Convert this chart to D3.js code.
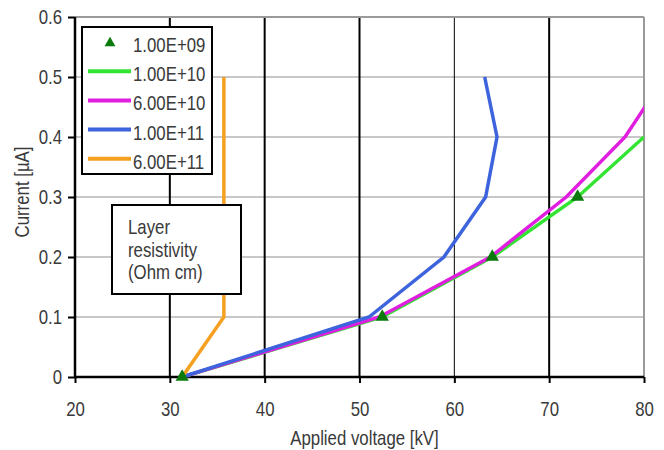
<!DOCTYPE html>
<html>
<head>
<meta charset="utf-8">
<script src="https://cdn.jsdelivr.net/npm/d3@7"></script>
<style>
  html, body { margin: 0; padding: 0; background: #fff; }
  svg { display: block; font-family: "Liberation Sans", Arial, sans-serif; }
</style>
</head>
<body>
<svg id="chart" width="664" height="450"></svg>
<script>
// ---- data ----
const xTicks = [20, 30, 40, 50, 60, 70, 80];
const yTicks = [0, 0.1, 0.2, 0.3, 0.4, 0.5, 0.6];
const yTickLabels = ["0", "0.1", "0.2", "0.3", "0.4", "0.5", "0.6"];

const seriesNames = ["1.00E+09", "1.00E+10", "6.00E+10", "1.00E+11", "6.00E+11"];

const volt_1e09 = [31.3, 52.4, 64.0, 73.0];
const curr_1e09 = [0, 0.1, 0.2, 0.3];

const volt_1e10 = [31.3, 52.4, 64.0, 73.0, 80.0];
const curr_1e10 = [0, 0.1, 0.2, 0.3, 0.4];

const volt_6e10 = [31.3, 52.1, 63.8, 71.8, 78.0, 82.2];
const curr_6e10 = [0, 0.1, 0.2, 0.3, 0.4, 0.5];

const volt_1e11 = [31.3, 51.0, 58.9, 63.3, 64.5, 63.2];
const curr_1e11 = [0, 0.1, 0.2, 0.3, 0.4, 0.5];

const volt_6e11 = [31.3, 35.7, 35.7, 35.7, 35.7, 35.7];
const curr_6e11 = [0, 0.1, 0.2, 0.3, 0.4, 0.5];

const boxLines = ["Layer", "resistivity", "(Ohm cm)"];

// ---- drawing ----
const svg = d3.select("#chart");
const x = d3.scaleLinear().domain([20, 80]).range([75, 644]);
const y = d3.scaleLinear().domain([0, 0.6]).range([377, 17]);
const textColor = "#3a3a3a";
const FS = 21;

const zip = (vs, cs) => vs.map((v, i) => ({ v, c: cs[i] }));

// clip
svg.append("defs").append("clipPath").attr("id", "plotclip")
  .append("rect").attr("x", x(20)).attr("y", y(0.6) - 1)
  .attr("width", x(80) - x(20)).attr("height", y(0) - y(0.6) + 2);

// horizontal gridlines (gray)
svg.append("g").selectAll("line").data(yTicks.filter(d => d > 0))
  .join("line")
  .attr("x1", x(20)).attr("x2", x(80))
  .attr("y1", d => y(d)).attr("y2", d => y(d))
  .attr("stroke", "#b4b4b4").attr("stroke-width", 1.5);

// vertical gridlines (black, right border gray)
svg.append("g").selectAll("line").data(xTicks.filter(d => d > 20))
  .join("line")
  .attr("x1", d => x(d)).attr("x2", d => x(d))
  .attr("y1", y(0.6)).attr("y2", y(0))
  .attr("stroke", d => d === 80 ? "#9a9a9a" : "#000")
  .attr("stroke-width", d => d === 60 ? 1 : 2);

// top border
svg.append("line")
  .attr("x1", x(20)).attr("x2", x(80))
  .attr("y1", y(0.6)).attr("y2", y(0.6))
  .attr("stroke", "#9a9a9a").attr("stroke-width", 2);

// axes
const xAxis = d3.axisBottom(x).tickValues(xTicks).tickSize(6).tickPadding(18)
  .tickFormat(d => String(d));
const gx = svg.append("g").attr("transform", `translate(0,${y(0)})`).call(xAxis);
gx.select(".domain").attr("stroke", "#000").attr("stroke-width", 2.5)
  .attr("d", `M${x(20)},0H${x(80)}`);
gx.selectAll(".tick line").attr("stroke", "#000").attr("stroke-width", 2);
gx.selectAll(".tick text").attr("fill", textColor).attr("font-size", FS)
  .attr("font-family", "Liberation Sans, Arial, sans-serif");

const yAxis = d3.axisLeft(y).tickValues(yTicks).tickSize(7).tickPadding(6)
  .tickFormat((d, i) => yTickLabels[i]);
const gy = svg.append("g").attr("transform", `translate(${x(20)},0)`).call(yAxis);
gy.select(".domain").attr("stroke", "#000").attr("stroke-width", 2.5)
  .attr("d", `M0,${y(0.6)}V${y(0)}`);
gy.selectAll(".tick line").attr("stroke", "#000").attr("stroke-width", 2);
gy.selectAll(".tick text").attr("fill", textColor).attr("font-size", FS)
  .attr("font-family", "Liberation Sans, Arial, sans-serif");

// axis titles
svg.append("text")
  .attr("x", (x(20) + x(80)) / 2 + 5).attr("y", 445)
  .attr("text-anchor", "middle").attr("fill", textColor).attr("font-size", FS)
  .text("Applied voltage [kV]");
svg.append("text")
  .attr("transform", `translate(29,${(y(0) + y(0.6)) / 2 - 5}) rotate(-90)`)
  .attr("text-anchor", "middle").attr("fill", textColor).attr("font-size", FS)
  .text("Current [\u00b5A]");

// series lines
const line = d3.line().x(d => x(d.v)).y(d => y(d.c));
const plot = svg.append("g").attr("clip-path", "url(#plotclip)");
const lineSeries = [
  { name: seriesNames[1], data: zip(volt_1e10, curr_1e10), color: "#33e433" },
  { name: seriesNames[2], data: zip(volt_6e10, curr_6e10), color: "#e01ee0" },
  { name: seriesNames[3], data: zip(volt_1e11, curr_1e11), color: "#3d63dd" },
  { name: seriesNames[4], data: zip(volt_6e11, curr_6e11), color: "#f5a020" }
];
plot.selectAll("path.series").data(lineSeries).join("path")
  .attr("class", "series")
  .attr("d", d => line(d.data))
  .attr("fill", "none").attr("stroke", d => d.color)
  .attr("stroke-width", 3.5).attr("stroke-linejoin", "miter");

// triangles
const tri = d3.symbol().type(d3.symbolTriangle).size(76);
const triSmall = d3.symbol().type(d3.symbolTriangle).size(52);
const triColor = "#0b7a0b";
svg.append("g").selectAll("path").data(zip(volt_1e09, curr_1e09)).join("path")
  .attr("transform", d => `translate(${x(d.v)},${y(d.c)})`)
  .attr("d", tri).attr("fill", triColor);

// legend
const lg = svg.append("g");
lg.append("rect").attr("x", 82).attr("y", 27).attr("width", 130).attr("height", 147)
  .attr("fill", "#fff").attr("stroke", "#000").attr("stroke-width", 2);
const legendItems = [
  { name: seriesNames[0], type: "tri", color: triColor },
  ...lineSeries.map(s => ({ name: s.name, type: "line", color: s.color }))
];
const rowBase = i => 52 + i * 29.2;
legendItems.forEach((it, i) => {
  if (it.type === "tri") {
    lg.append("path").attr("d", triSmall).attr("fill", it.color)
      .attr("transform", `translate(110,${rowBase(i) - 9})`);
  } else {
    lg.append("line").attr("x1", 88).attr("x2", 131)
      .attr("y1", rowBase(i) - 10).attr("y2", rowBase(i) - 10)
      .attr("stroke", it.color).attr("stroke-width", 4);
  }
  lg.append("text").attr("x", 133).attr("y", rowBase(i))
    .attr("fill", textColor).attr("font-size", FS).text(it.name);
});

// text box
const tb = svg.append("g");
tb.append("rect").attr("x", 112).attr("y", 205).attr("width", 129).attr("height", 89)
  .attr("fill", "#fff").attr("stroke", "#000").attr("stroke-width", 2);
boxLines.forEach((t, i) => {
  tb.append("text").attr("x", 128).attr("y", 234 + i * 22.5)
    .attr("fill", textColor).attr("font-size", FS).text(t);
});

// horizontally condense text to match reference's narrow glyphs
svg.selectAll("text").each(function () {
  const w = this.getComputedTextLength();
  if (w > 0) {
    d3.select(this).attr("textLength", w * 0.8).attr("lengthAdjust", "spacingAndGlyphs");
  }
});
</script>
</body>
</html>
